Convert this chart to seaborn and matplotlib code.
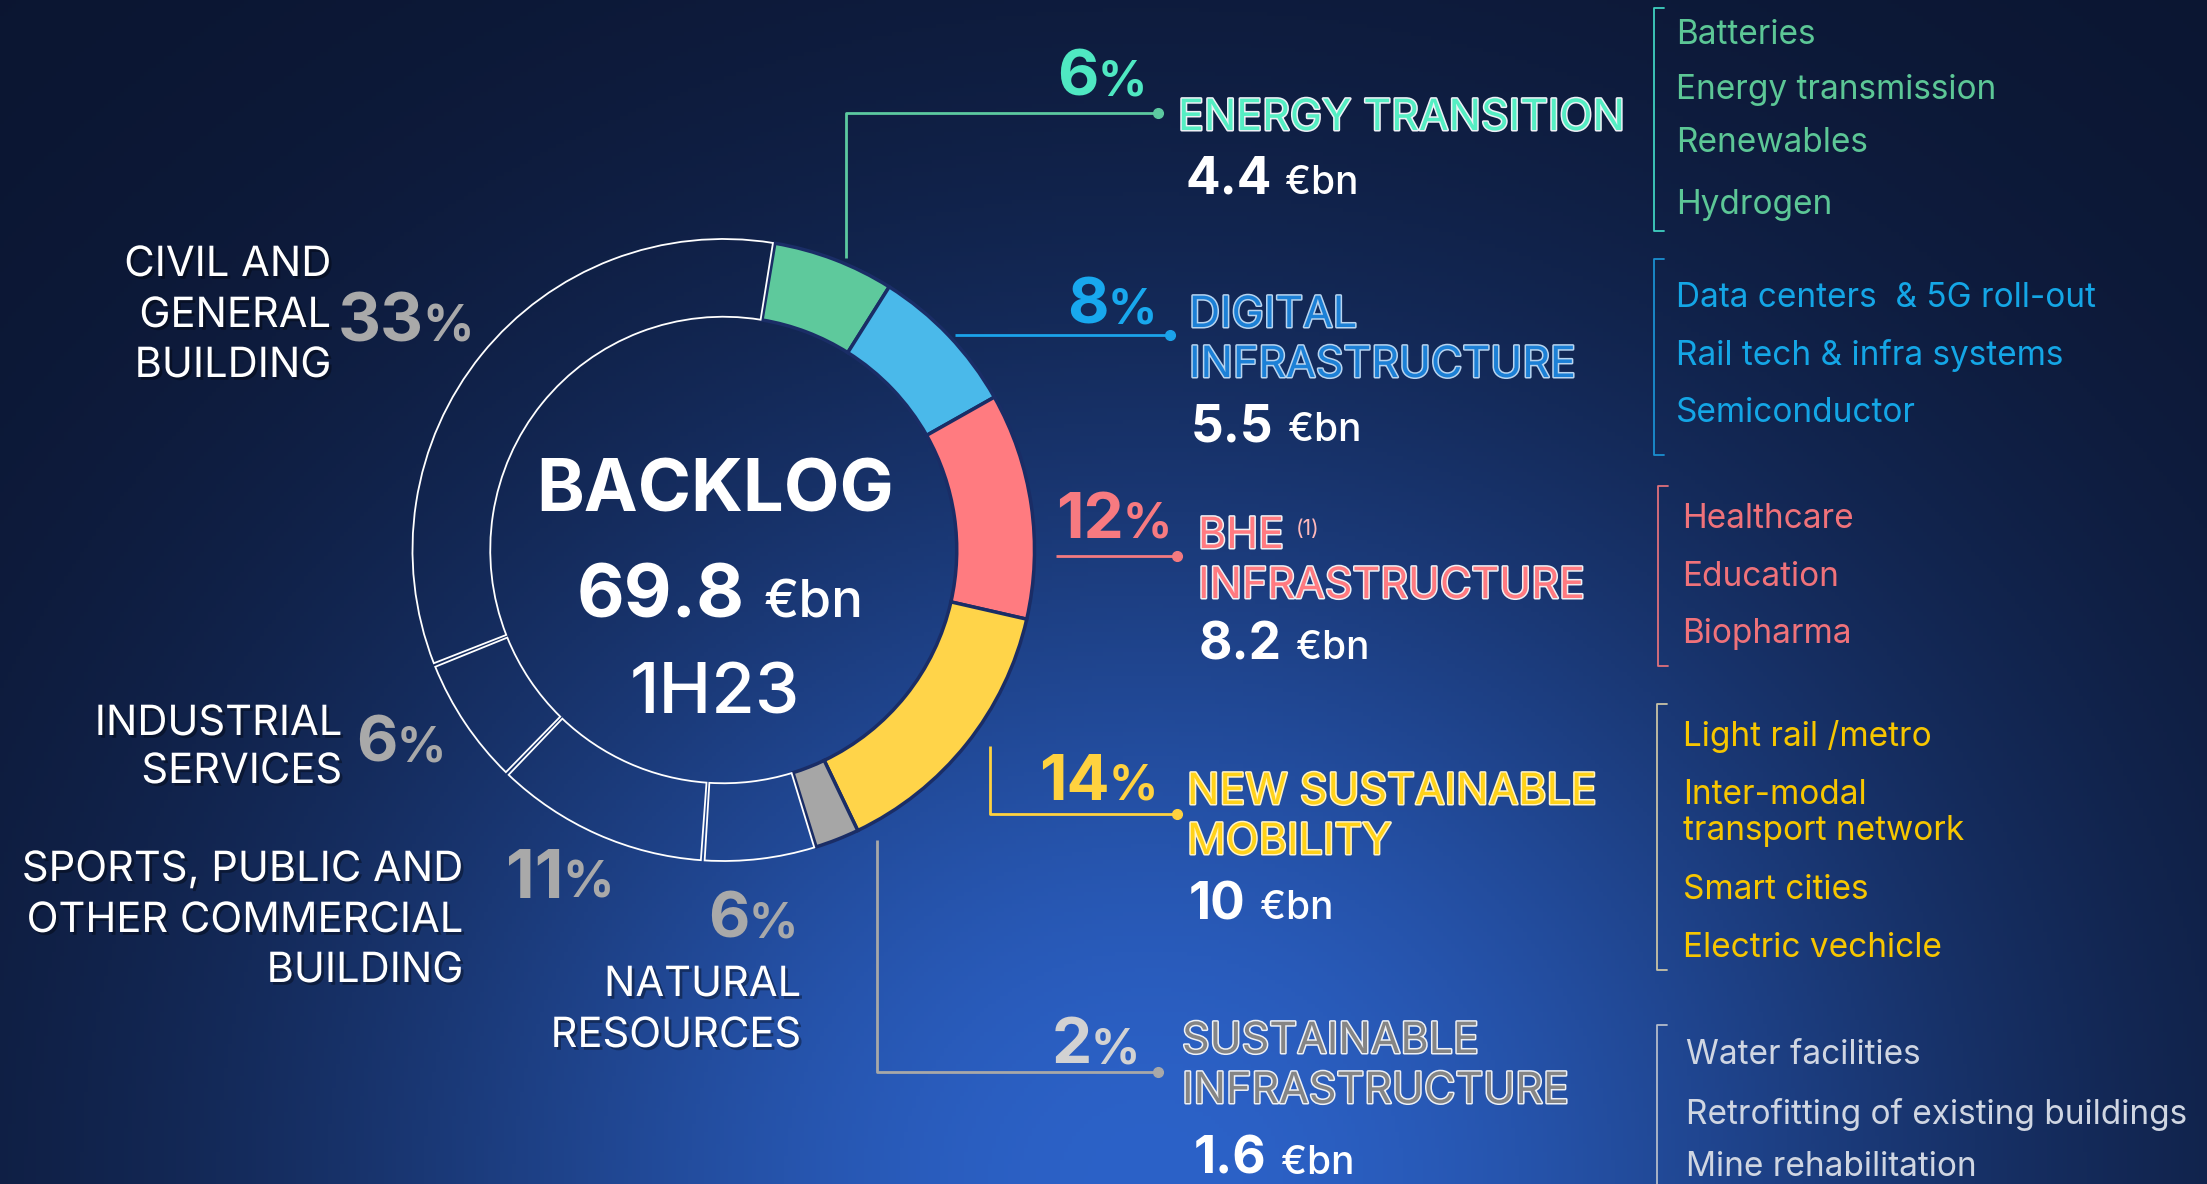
import numpy as np
import matplotlib
matplotlib.use("Agg")
import matplotlib.pyplot as plt
import matplotlib.patheffects as pe
import seaborn as sns

# ---------------- data ----------------
segments = ["ENERGY TRANSITION", "DIGITAL INFRASTRUCTURE", "BHE INFRASTRUCTURE",
            "NEW SUSTAINABLE MOBILITY", "SUSTAINABLE INFRASTRUCTURE", "NATURAL RESOURCES",
            "SPORTS, PUBLIC AND OTHER COMMERCIAL BUILDING", "INDUSTRIAL SERVICES",
            "CIVIL AND GENERAL BUILDING"]
backlog_bn = [4.4, 5.5, 8.2, 10.0, 1.6, 4.1, 7.8, 4.7, 23.5]
pct_labels = ["6", "8", "12", "14", "2", "6", "11", "6", "33"]
value_labels = ["4.4", "5.5", "8.2", "10", "1.6"]
total_label = "69.8"
period_label = "1H23"

energy_items = ["Batteries", "Energy transmission", "Renewables", "Hydrogen"]
digital_items = ["Data centers  & 5G roll-out", "Rail tech & infra systems", "Semiconductor"]
bhe_items = ["Healthcare", "Education", "Biopharma"]
mobility_items = ["Light rail /metro", "Inter-modal", "transport network", "Smart cities", "Electric vechicle"]
sustain_items = ["Water facilities", "Retrofitting of existing buildings", "Mine rehabilitation"]

# ---------------- style ----------------
sns.set_theme(style="white")
plt.rcParams['font.family'] = ['Inter', 'DejaVu Sans']

seg_colors = sns.color_palette(["#5ec99c", "#4ab9ea", "#ff7b80", "#ffd449", "#a6a6a6"])
colored_n = 5
pie_colors = list(seg_colors) + ["none"] * 4

W, H = 2207, 1184
fig = plt.figure(figsize=(W / 100, H / 100), dpi=100)
ax = fig.add_axes([0, 0, 1, 1])

# background gradient (row 0 = top of image)
xx, yy = np.meshgrid(np.arange(0, W, 4), np.arange(0, H, 4))
w = np.exp(-((xx - 1150) / 820.0) ** 2 - ((yy - 1184) / 760.0) ** 2)
dark = np.array([11, 21, 48]) / 255.0
bright = np.array([44, 98, 200]) / 255.0
img = dark[None, None, :] * (1 - w[..., None]) + bright[None, None, :] * w[..., None]
ax.imshow(img, extent=(0, W, 0, H), zorder=0, aspect='auto', origin='upper')

def Y(y):
    return H - y

# ---------------- donut ----------------
cx, cy, R = 723.5, 550, 311
wedges, _ = ax.pie(backlog_bn, colors=pie_colors, startangle=80.5, counterclock=False,
                   radius=R, center=(cx, Y(cy)), frame=False,
                   wedgeprops=dict(width=R * 0.25))
for i, wd in enumerate(wedges):
    wd.set_zorder(3)
    if i < colored_n:
        wd.set_edgecolor("#1a2d66")
        wd.set_linewidth(2.5)
    else:
        # small visual gap between outlined segments
        wd.set_theta1(wd.theta1 + 0.35)
        wd.set_theta2(wd.theta2 - 0.35)
        wd.set_edgecolor("white")
        wd.set_linewidth(1.3)

ax.set_xlim(0, W)
ax.set_ylim(0, H)
ax.set_aspect('auto')
ax.axis('off')

fig.canvas.draw()
renderer = fig.canvas.get_renderer()

shadow = [pe.withSimplePatchShadow(offset=(2, -2), shadow_rgbFace='black', alpha=0.35)]

def T(x, y, s, **kw):
    kw.setdefault('va', 'baseline')
    kw.setdefault('zorder', 5)
    return ax.text(x, Y(y), s, **kw)

def pct(x_right, base, num, color, size=46):
    p = T(x_right, base, "%", color=color, fontsize=size * 0.76, fontweight='bold', ha='right')
    bb = p.get_window_extent(renderer)
    T(bb.x0 + 1, base, num, color=color, fontsize=size, fontweight='bold', ha='right')

def value(x_left, base, num, size=37, usize=28, gap=14):
    t = T(x_left, base, num, color='white', fontsize=size, fontweight='bold', ha='left')
    bb = t.get_window_extent(renderer)
    T(bb.x1 + gap, base, "€bn", color='white', fontsize=usize, fontweight='medium', ha='left')

# center
T(715, 511, "BACKLOG", color='white', fontsize=52, fontweight='bold', ha='center')
value(577, 618, total_label, size=53, usize=38, gap=18)
T(715, 714, period_label, color='white', fontsize=51, fontweight='medium', ha='center')

# left labels
lab_kw = dict(color='white', fontsize=30, ha='right', path_effects=shadow)
for s, b in zip(["CIVIL AND", "GENERAL", "BUILDING"], [276, 327, 377]):
    T(331, b, s, **lab_kw)
for s, b in zip(["INDUSTRIAL", "SERVICES"], [735, 783]):
    T(342, b, s, **lab_kw)
for s, b in zip(["SPORTS, PUBLIC AND", "OTHER COMMERCIAL", "BUILDING"], [881, 932, 982]):
    T(463, b, s, **lab_kw)
for s, b in zip(["NATURAL", "RESOURCES"], [996, 1047]):
    T(801, b, s, **lab_kw)

grey_pct = "#a9a9a9"
pct(474, 341, pct_labels[8], grey_pct, 48)
pct(446, 761, pct_labels[7], grey_pct, 46)
pct(614, 898, pct_labels[6], grey_pct, 48)
pct(798, 937, pct_labels[5], grey_pct, 46)

# right side percentages
pct(1147, 96, pct_labels[0], "#4fe8c2")
pct(1157, 324, pct_labels[1], "#18a8ee")
pct(1172, 538, pct_labels[2], "#f77a80")
pct(1158, 800, pct_labels[3], "#ffd23f")
pct(1140, 1063, pct_labels[4], "#d2d2d2")

# connectors
def connector(pts, color):
    xs = [p[0] for p in pts]
    ys = [Y(p[1]) for p in pts]
    ax.plot(xs, ys, color=color, lw=2, zorder=4, solid_capstyle='butt')
    ax.plot(xs[-1], ys[-1], 'o', color=color, ms=7, zorder=4)

connector([(846, 258), (846, 113), (1158, 113)], "#5cc9a0")
connector([(955, 335), (1170, 335)], "#1ba3ea")
connector([(1056, 556), (1177, 556)], "#f47a80")
connector([(989.5, 746), (989.5, 814), (1177, 814)], "#ffd23f")
connector([(877, 840), (877, 1072), (1158, 1072)], "#a8a8a8")

# right category titles
def outlined(edge="#eef1f6"):
    return [pe.Stroke(linewidth=2.2, foreground=edge), pe.Normal()]

cat_kw = dict(fontsize=31, ha='left')
T(1178, 130, "ENERGY TRANSITION", color="#55eec3", path_effects=outlined(), **cat_kw)
value(1185, 194, value_labels[0])

T(1189, 327, "DIGITAL", color="#1c80d6", path_effects=outlined("#b8d4ef"), **cat_kw)
T(1189, 377, "INFRASTRUCTURE", color="#1c80d6", path_effects=outlined("#b8d4ef"), **cat_kw)
value(1191, 441, value_labels[1])

bhe = T(1198, 548, "BHE", color="#ff7a80", path_effects=outlined(), **cat_kw)
bb = bhe.get_window_extent(renderer)
T(bb.x1 + 12, 535, "(1)", color="#ffb8bb", fontsize=15, ha='left')
T(1198, 598, "INFRASTRUCTURE", color="#ff7a80", path_effects=outlined(), **cat_kw)
value(1199, 659, value_labels[2])

T(1187, 804, "NEW SUSTAINABLE", color="#ffd21a", path_effects=outlined("#fff4c8"), **cat_kw)
T(1187, 854, "MOBILITY", color="#ffd21a", path_effects=outlined("#fff4c8"), **cat_kw)
value(1189, 919, value_labels[3])

T(1182, 1053, "SUSTAINABLE", color="#858585", path_effects=outlined(), **cat_kw)
T(1182, 1103, "INFRASTRUCTURE", color="#858585", path_effects=outlined(), **cat_kw)
value(1194, 1174, value_labels[4])

# bracket lists
def bracket(x, y0, y1, color):
    ax.plot([x + 10, x, x, x + 10], [Y(y0), Y(y0), Y(y1), Y(y1)], color=color, lw=1.3, zorder=4)

def items(x, bases, labels, color):
    for s, b in zip(labels, bases):
        T(x, b, s, color=color, fontsize=24, ha='left')

bracket(1654, 8, 231, "#3fd0c0")
items(1676, [44, 99, 152, 214], energy_items, "#5cc796")

bracket(1654, 259, 455, "#1a8fd0")
items(1676, [307, 365, 422], digital_items, "#14a6e6")

bracket(1658, 486, 666, "#e0707c")
items(1682, [528, 586, 643], bhe_items, "#f0727a")

bracket(1657, 704, 970, "#c9c3a6")
items(1683, [746, 804, 840, 899, 957], mobility_items, "#f7c600")

bracket(1657, 1025, 1200, "#b4bccb")
items(1686, [1064, 1124, 1176], sustain_items, "#d0d6e2")

fig.savefig("out.png", dpi=100)
